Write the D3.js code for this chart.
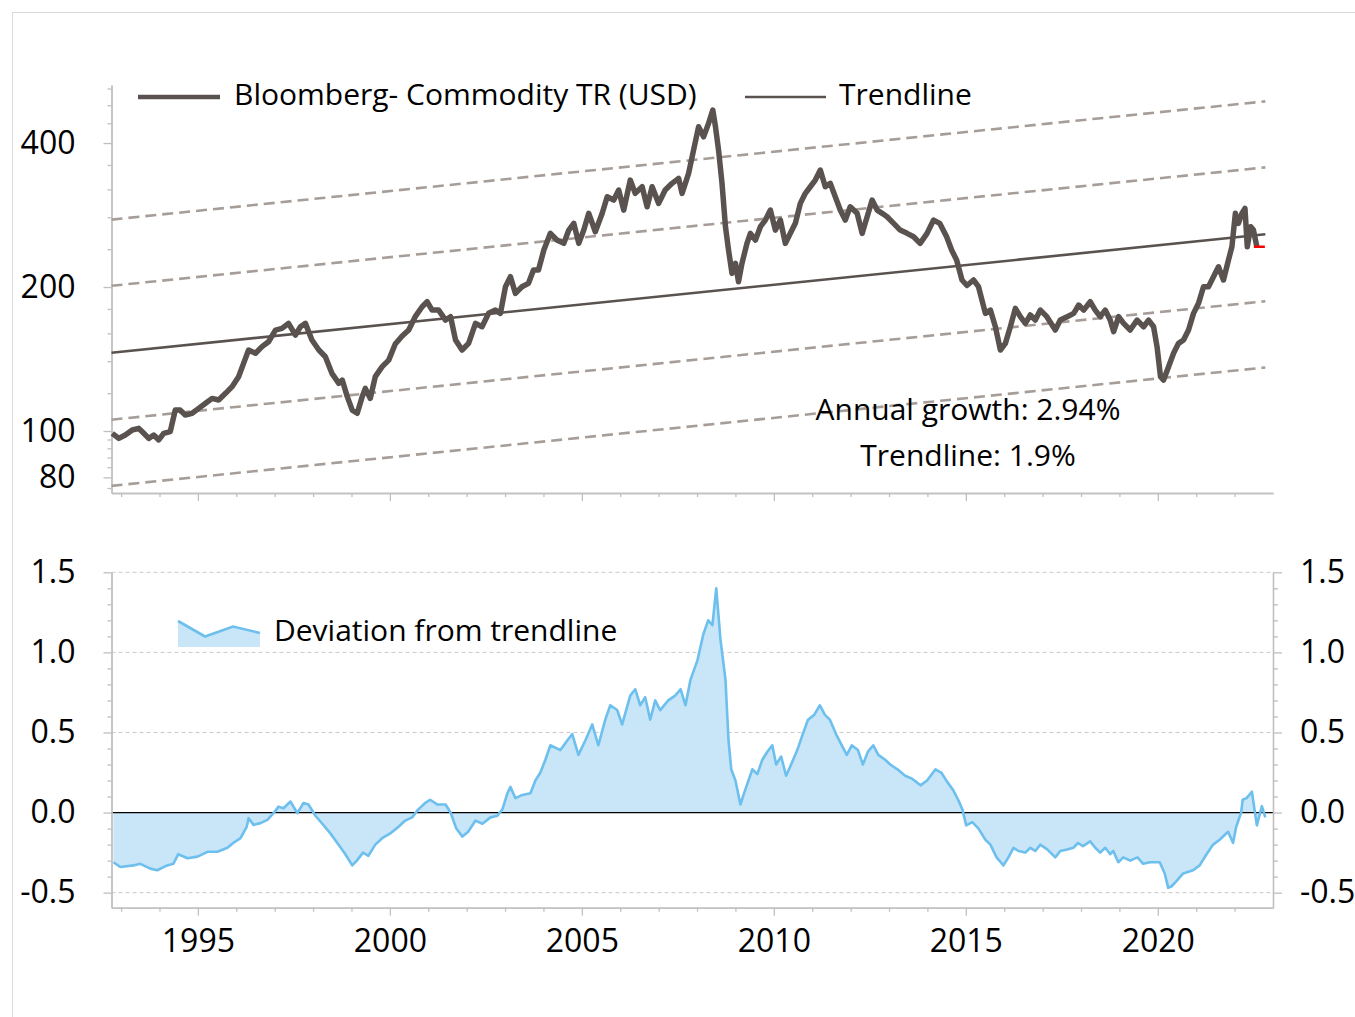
<!DOCTYPE html>
<html>
<head>
<meta charset="utf-8">
<script src="https://cdn.jsdelivr.net/npm/d3@7"></script>
<style>
  body { margin: 0; background: #fff; }
  svg { display: block; font-family: "Open Sans", sans-serif; }
</style>
</head>
<body>
<svg id="chart" width="1355" height="1017"></svg>
<script>
// ---- data ----
const priceYears = [1992.77,1992.94,1993.11,1993.29,1993.46,1993.59,1993.72,1993.85,1993.98,1994.11,1994.28,1994.41,1994.54,1994.67,1994.85,1995.02,1995.20,1995.37,1995.54,1995.72,1995.89,1996.06,1996.19,1996.32,1996.50,1996.67,1996.84,1997.02,1997.19,1997.36,1997.54,1997.67,1997.80,1997.97,1998.15,1998.32,1998.49,1998.67,1998.76,1998.89,1999.02,1999.15,1999.28,1999.36,1999.49,1999.62,1999.80,1999.97,2000.14,2000.32,2000.49,2000.66,2000.84,2000.97,2001.10,2001.27,2001.45,2001.58,2001.71,2001.88,2002.05,2002.23,2002.40,2002.57,2002.75,2002.88,2003.01,2003.14,2003.27,2003.44,2003.61,2003.74,2003.87,2004.01,2004.18,2004.35,2004.53,2004.66,2004.79,2004.92,2005.05,2005.18,2005.35,2005.53,2005.66,2005.83,2005.96,2006.09,2006.26,2006.39,2006.57,2006.70,2006.83,2007.00,2007.17,2007.35,2007.52,2007.61,2007.78,2007.91,2008.04,2008.17,2008.30,2008.41,2008.48,2008.56,2008.65,2008.74,2008.82,2008.91,2009.00,2009.08,2009.17,2009.30,2009.39,2009.52,2009.65,2009.78,2009.91,2010.04,2010.17,2010.30,2010.43,2010.56,2010.69,2010.82,2010.95,2011.08,2011.21,2011.34,2011.47,2011.60,2011.73,2011.86,2011.99,2012.17,2012.30,2012.43,2012.56,2012.69,2012.82,2012.95,2013.12,2013.29,2013.47,2013.64,2013.81,2013.99,2014.16,2014.32,2014.50,2014.63,2014.76,2014.90,2015.03,2015.20,2015.33,2015.51,2015.64,2015.77,2015.90,2016.03,2016.16,2016.29,2016.42,2016.55,2016.68,2016.81,2016.94,2017.11,2017.33,2017.46,2017.64,2017.81,2017.94,2018.07,2018.24,2018.37,2018.50,2018.63,2018.76,2018.85,2018.98,2019.11,2019.28,2019.46,2019.63,2019.76,2019.89,2019.98,2020.07,2020.15,2020.28,2020.41,2020.54,2020.67,2020.80,2020.93,2021.06,2021.19,2021.32,2021.45,2021.58,2021.71,2021.84,2021.93,2022.02,2022.10,2022.19,2022.27,2022.33,2022.42,2022.49,2022.58];
const priceValues = [98.9,96.5,98.1,100.5,101.3,98.9,96.5,98.1,95.8,98.9,99.7,110.6,110.6,108.0,108.9,111.5,114.3,117.0,116.1,119.9,123.8,129.9,138.5,147.7,145.4,150.1,153.7,162.6,163.9,167.9,158.7,165.2,167.9,155.0,147.7,143.0,132.0,125.8,127.8,118.0,110.6,108.9,118.0,122.8,117.0,129.9,136.3,140.7,152.0,158.0,162.6,173.4,181.9,186.3,179.0,179.0,170.6,173.4,155.0,147.7,152.5,167.9,165.2,176.2,179.0,176.2,200.3,210.2,194.0,200.3,203.6,217.1,217.1,239.0,259.0,250.8,246.8,263.1,271.8,246.8,263.1,285.2,261.0,285.2,308.9,304.0,319.0,289.7,334.7,314.0,324.1,294.4,324.1,299.2,319.0,329.5,337.5,314.0,345.7,386.8,432.7,412.3,439.8,468.9,432.7,386.8,329.5,267.4,239.0,213.6,224.2,205.2,224.2,246.8,259.0,250.8,267.4,276.1,289.7,263.1,276.1,246.8,259.0,271.8,299.2,314.0,324.1,334.7,351.3,324.1,329.5,308.9,289.7,276.1,294.4,285.2,259.0,280.5,304.0,289.7,285.2,280.5,271.8,263.1,259.0,254.8,246.8,259.0,276.1,271.8,254.8,239.0,227.8,206.9,201.5,206.9,200.3,176.2,179.0,165.2,147.7,152.5,165.2,180.5,173.4,167.9,174.8,170.6,179.0,173.4,162.6,170.6,173.4,176.2,183.4,179.0,186.3,179.0,173.4,179.0,170.6,161.3,173.4,167.9,162.6,170.6,165.2,170.6,165.2,150.1,129.9,127.8,136.3,145.4,152.5,155.0,162.6,176.2,184.9,200.3,200.3,210.2,220.5,206.9,227.8,242.8,285.2,271.8,285.2,292.1,242.8,267.4,263.1,242.8];

// trendline and the four dashed bands: value at start and at end
const trendYears = [1992.75, 2022.8];
const trendValues = [145.8, 257.8];
const bandUpper2 = [276.7, 489.0];
const bandUpper1 = [201.2, 355.8];
const bandLower1 = [105.6, 186.8];
const bandLower2 = [76.8, 135.8];

const devYears = [1992.80,1992.98,1993.32,1993.50,1993.76,1993.94,1994.20,1994.36,1994.49,1994.73,1994.99,1995.25,1995.51,1995.77,1995.92,1996.11,1996.27,1996.32,1996.45,1996.63,1996.81,1996.97,1997.10,1997.23,1997.41,1997.59,1997.75,1997.88,1998.06,1998.24,1998.45,1998.66,1998.84,1999.02,1999.14,1999.30,1999.44,1999.62,1999.80,2000.01,2000.22,2000.40,2000.58,2000.74,2000.92,2001.05,2001.24,2001.45,2001.58,2001.73,2001.89,2002.04,2002.23,2002.41,2002.62,2002.80,
  2002.93,2003.06,2003.14,2003.27,2003.45,2003.66,2003.79,2003.92,2004.05,2004.18,2004.44,2004.62,2004.75,2004.91,2005.09,2005.27,2005.43,2005.61,2005.74,2005.92,2006.05,2006.26,2006.39,2006.52,2006.65,2006.78,2006.91,2007.04,2007.25,2007.43,2007.57,2007.70,2007.83,2008.01,2008.16,2008.29,2008.40,2008.50,2008.61,2008.74,2008.82,2008.89,2009.00,2009.13,2009.21,2009.34,2009.44,2009.57,2009.70,2009.83,2009.96,2010.06,2010.19,2010.32,2010.45,2010.61,2010.74,2010.89,2011.05,2011.20,2011.33,2011.46,2011.62,2011.77,2011.90,2012.03,2012.19,2012.32,2012.45,2012.59,2012.72,2012.90,2013.03,2013.22,2013.42,2013.61,2013.82,2013.99,2014.21,2014.36,2014.52,2014.67,2014.80,2014.91,2015.01,2015.17,2015.33,2015.51,2015.64,2015.80,2015.98,2016.11,2016.24,2016.37,
  2016.55,2016.68,2016.81,2016.94,2017.12,2017.33,2017.46,2017.64,2017.80,2017.92,2018.05,2018.24,2018.37,2018.50,2018.63,
  2018.76,2018.84,2018.97,2019.10,2019.28,2019.47,2019.62,2019.79,2019.95,2020.05,2020.18,2020.27,2020.36,2020.48,2020.66,2020.92,2021.09,2021.27,2021.44,2021.61,2021.83,2021.96,2022.04,2022.17,2022.21,2022.31,2022.45,2022.58,2022.71,2022.80];
const devValues = [-0.31,-0.34,-0.33,-0.32,-0.35,-0.36,-0.33,-0.32,-0.26,-0.285,-0.275,-0.245,-0.245,-0.22,-0.19,-0.16,-0.09,-0.035,-0.077,-0.066,-0.046,-0.004,0.037,0.027,0.069,-0.004,0.06,0.05,-0.02,-0.07,-0.13,-0.2,-0.26,-0.33,-0.30,-0.25,-0.27,-0.2,-0.16,-0.13,-0.09,-0.05,-0.03,0.02,0.06,0.08,0.05,0.05,0.0,-0.1,-0.15,-0.12,-0.05,-0.07,-0.03,-0.02,
  0.02,0.12,0.16,0.09,0.11,0.12,0.2,0.25,0.33,0.42,0.39,0.45,0.49,0.36,0.45,0.55,0.42,0.58,0.67,0.64,0.55,0.73,0.77,0.67,0.72,0.58,0.7,0.64,0.7,0.73,0.77,0.67,0.83,0.95,1.11,1.2,1.17,1.4,1.08,0.83,0.45,0.27,0.2,0.05,0.11,0.2,0.27,0.24,0.33,0.38,0.42,0.3,0.35,0.23,0.3,0.39,0.48,0.58,0.61,0.67,0.61,0.58,0.49,0.42,0.36,0.42,0.39,0.3,0.38,0.42,0.36,0.33,0.3,0.27,0.23,0.21,0.17,0.2,0.27,0.25,0.19,0.14,0.08,0.02,-0.08,-0.06,-0.1,-0.17,-0.2,-0.28,-0.33,-0.28,-0.22,-0.24,
  -0.25,-0.22,-0.24,-0.2,-0.23,-0.28,-0.24,-0.23,-0.22,-0.19,-0.21,-0.18,-0.22,-0.25,-0.22,
  -0.26,-0.24,-0.31,-0.28,-0.3,-0.28,-0.32,-0.31,-0.31,-0.31,-0.38,-0.47,-0.46,-0.43,-0.38,-0.36,-0.33,-0.26,-0.2,-0.17,-0.12,-0.19,-0.09,0.0,0.08,0.09,0.13,-0.08,0.04,-0.03];

const axisYears = d3.range(1993, 2023);
const majorYears = [1995, 2000, 2005, 2010, 2015, 2020];
const priceTicks = [80, 100, 200, 400];
const priceMinorTicks = [76, 84, 88, 92, 96, 120, 140, 160, 180, 240, 280, 320, 360, 440, 480, 520];
const devTicks = [-0.5, 0.0, 0.5, 1.0, 1.5];
const devMinorTicks = [-0.4,-0.3,-0.2,-0.1,0.1,0.2,0.3,0.4,0.6,0.7,0.8,0.9,1.1,1.2,1.3,1.4];
const devGrid = [-0.5, 0.5, 1.0, 1.5];

const annualGrowthText = "Annual growth: 2.94%";
const trendGrowthText = "Trendline: 1.9%";

// ---- colours ----
const priceColor = "#59524f";
const bandColor = "#a69d98";
const axisColor = "#bfbfbf";
const devLine = "#6dbfee";
const devFill = "#c8e6f8";

const svg = d3.select("#chart");

// outer frame
svg.append("rect")
  .attr("x", 12.5).attr("y", 12.5)
  .attr("width", 1400).attr("height", 1100)
  .attr("fill", "none").attr("stroke", "#d9d9d9");

const x = d3.scaleLinear().domain([1992.75, 2023.0]).range([111.5, 1273]);
const yTop = d3.scaleLog().domain([74.2, 529]).range([493, 85]);
const yDev = d3.scaleLinear().domain([-0.594, 1.5]).range([907.7, 572.3]);

function styleAxis(g) {
  g.select(".domain").attr("stroke", axisColor).attr("stroke-width", 1.3);
  g.selectAll(".tick line").attr("stroke", axisColor).attr("stroke-width", 1.3);
  g.selectAll(".tick text").attr("fill", "#000").attr("font-size", 32)
    .attr("font-family", "'Open Sans', sans-serif");
}

// ================= TOP PANEL =================
const topG = svg.append("g");

// y axis (log)
topG.append("g").attr("transform", `translate(${x.range()[0]},0)`)
  .call(d3.axisLeft(yTop).tickValues(priceMinorTicks).tickSize(4).tickSizeOuter(0).tickFormat(""))
  .call(styleAxis);
topG.append("g").attr("transform", `translate(${x.range()[0]},0)`)
  .call(d3.axisLeft(yTop).tickValues(priceTicks).tickSize(8).tickSizeOuter(0).tickPadding(28)
    .tickFormat(d3.format("d")))
  .call(styleAxis);

// x axis (no labels)
topG.append("g").attr("transform", `translate(0,${yTop.range()[0]})`)
  .call(d3.axisBottom(x).tickValues(axisYears.filter(d => !majorYears.includes(d))).tickSize(4).tickSizeOuter(0).tickFormat(""))
  .call(styleAxis);
topG.append("g").attr("transform", `translate(0,${yTop.range()[0]})`)
  .call(d3.axisBottom(x).tickValues(majorYears).tickSize(8).tickSizeOuter(0).tickFormat(""))
  .call(styleAxis);

// dashed bands
const twoPoint = d3.line().x(d => x(d[0])).y(d => yTop(d[1]));
[bandUpper2, bandUpper1, bandLower1, bandLower2].forEach(b => {
  topG.append("path")
    .datum([[trendYears[0], b[0]], [trendYears[1], b[1]]])
    .attr("d", twoPoint)
    .attr("fill", "none")
    .attr("stroke", bandColor)
    .attr("stroke-width", 2.6)
    .attr("stroke-dasharray", "11,6");
});

// trendline
topG.append("path")
  .datum([[trendYears[0], trendValues[0]], [trendYears[1], trendValues[1]]])
  .attr("d", twoPoint)
  .attr("fill", "none")
  .attr("stroke", priceColor)
  .attr("stroke-width", 2.6);

// price
const priceData = priceYears.map((t, i) => [t, priceValues[i]]);
topG.append("path")
  .datum(priceData)
  .attr("d", twoPoint)
  .attr("fill", "none")
  .attr("stroke", priceColor)
  .attr("stroke-width", 5.5)
  .attr("stroke-linejoin", "round");

// red marker at the last value
const last = priceData[priceData.length - 1];
topG.append("line")
  .attr("x1", x(last[0]) - 3).attr("x2", x(last[0]) + 8)
  .attr("y1", yTop(last[1])).attr("y2", yTop(last[1]))
  .attr("stroke", "#ff0000").attr("stroke-width", 2.5);

// legend
const lg = topG.append("g").attr("font-size", 30).attr("fill", "#000");
lg.append("line").attr("x1", 138).attr("x2", 220).attr("y1", 97).attr("y2", 97)
  .attr("stroke", priceColor).attr("stroke-width", 4.5);
lg.append("text").attr("x", 234).attr("y", 105).text("Bloomberg- Commodity TR (USD)");
lg.append("line").attr("x1", 745).attr("x2", 826).attr("y1", 97).attr("y2", 97)
  .attr("stroke", priceColor).attr("stroke-width", 2.6);
lg.append("text").attr("x", 839).attr("y", 105).text("Trendline");

// annotations
topG.append("text").attr("x", 968).attr("y", 420).attr("text-anchor", "middle")
  .attr("font-size", 30).text(annualGrowthText);
topG.append("text").attr("x", 968).attr("y", 466).attr("text-anchor", "middle")
  .attr("font-size", 30).text(trendGrowthText);

// ================= BOTTOM PANEL =================
const botG = svg.append("g");

// gridlines
botG.selectAll("line.grid").data(devGrid).join("line")
  .attr("class", "grid")
  .attr("x1", x.range()[0]).attr("x2", x.range()[1])
  .attr("y1", d => yDev(d)).attr("y2", d => yDev(d))
  .attr("stroke", "#c9c9c9").attr("stroke-width", 1).attr("stroke-dasharray", "4,3");

// area + line
const devData = devYears.map((t, i) => [t, devValues[i]]);
botG.append("path")
  .datum(devData)
  .attr("d", d3.area().x(d => x(d[0])).y0(yDev(0)).y1(d => yDev(d[1])))
  .attr("fill", devFill);

botG.append("line")
  .attr("x1", x.range()[0]).attr("x2", x.range()[1])
  .attr("y1", yDev(0)).attr("y2", yDev(0))
  .attr("stroke", "#000").attr("stroke-width", 1.2);

botG.append("path")
  .datum(devData)
  .attr("d", d3.line().x(d => x(d[0])).y(d => yDev(d[1])))
  .attr("fill", "none")
  .attr("stroke", devLine)
  .attr("stroke-width", 2.6)
  .attr("stroke-linejoin", "round");

// axes
const fmt = d => d.toFixed(1);
botG.append("g").attr("transform", `translate(${x.range()[0]},0)`)
  .call(d3.axisLeft(yDev).tickValues(devMinorTicks).tickSize(4).tickSizeOuter(0).tickFormat(""))
  .call(styleAxis);
botG.append("g").attr("transform", `translate(${x.range()[0]},0)`)
  .call(d3.axisLeft(yDev).tickValues(devTicks).tickSize(8).tickSizeOuter(0).tickPadding(28).tickFormat(fmt))
  .call(styleAxis);
botG.append("g").attr("transform", `translate(${x.range()[1]},0)`)
  .call(d3.axisRight(yDev).tickValues(devMinorTicks).tickSize(5).tickSizeOuter(0).tickFormat(""))
  .call(styleAxis);
botG.append("g").attr("transform", `translate(${x.range()[1]},0)`)
  .call(d3.axisRight(yDev).tickValues(devTicks).tickSize(9).tickSizeOuter(0).tickPadding(18).tickFormat(fmt))
  .call(styleAxis);

botG.append("g").attr("transform", `translate(0,${yDev.range()[0]})`)
  .call(d3.axisBottom(x).tickValues(axisYears.filter(d => !majorYears.includes(d))).tickSize(4).tickSizeOuter(0).tickFormat(""))
  .call(styleAxis);
botG.append("g").attr("transform", `translate(0,${yDev.range()[0]})`)
  .call(d3.axisBottom(x).tickValues(majorYears).tickSize(8).tickSizeOuter(0).tickPadding(14).tickFormat(d3.format("d")))
  .call(styleAxis);

// legend
const dl = botG.append("g");
const iconPts = [[178, 621], [205, 636.5], [233, 626.5], [260, 633]];
dl.append("path")
  .attr("d", d3.area().x(d => d[0]).y0(647).y1(d => d[1])(iconPts))
  .attr("fill", devFill);
dl.append("path")
  .attr("d", d3.line()(iconPts))
  .attr("fill", "none").attr("stroke", devLine).attr("stroke-width", 2.6);
dl.append("text").attr("x", 274).attr("y", 641).attr("font-size", 30)
  .text("Deviation from trendline");
</script>
</body>
</html>
